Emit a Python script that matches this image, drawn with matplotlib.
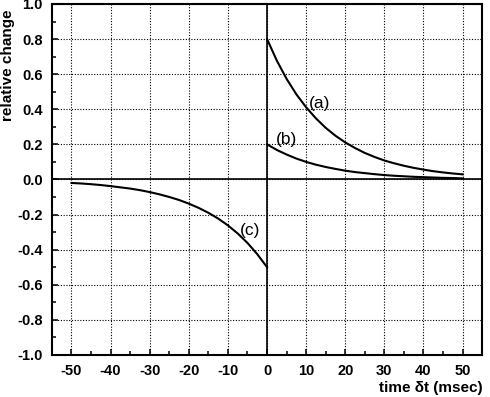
import matplotlib
matplotlib.use("Agg")
import matplotlib.pyplot as plt
from matplotlib.ticker import MultipleLocator, FormatStrFormatter

plt.rcParams['font.family'] = ['Liberation Sans', 'DejaVu Sans']
plt.rcParams['axes.unicode_minus'] = False

# values, every 2.5 msec
t_pos = [0, 2.5, 5, 7.5, 10, 12.5, 15, 17.5, 20, 22.5, 25,
         27.5, 30, 32.5, 35, 37.5, 40, 42.5, 45, 47.5, 50]
curve_a = [0.800, 0.677, 0.573, 0.485, 0.411, 0.348, 0.294, 0.249, 0.211, 0.179, 0.151,
           0.128, 0.108, 0.092, 0.078, 0.066, 0.056, 0.047, 0.040, 0.034, 0.029]
curve_b = [0.200, 0.168, 0.142, 0.119, 0.100, 0.084, 0.071, 0.060, 0.050, 0.042, 0.036,
           0.030, 0.025, 0.021, 0.018, 0.015, 0.013, 0.011, 0.009, 0.008, 0.006]

t_neg = [-50, -47.5, -45, -42.5, -40, -37.5, -35, -32.5, -30, -27.5, -25,
         -22.5, -20, -17.5, -15, -12.5, -10, -7.5, -5, -2.5, 0]
curve_c = [-0.020, -0.023, -0.027, -0.032, -0.038, -0.045, -0.052, -0.061, -0.072, -0.085, -0.100,
           -0.117, -0.138, -0.162, -0.190, -0.223, -0.262, -0.308, -0.362, -0.426, -0.500]

labels = ["(a)", "(b)", "(c)"]
label_pos = [(13.4, 0.43), (5.0, 0.225), (-4.3, -0.29)]

fig = plt.figure(figsize=(4.9, 3.97), dpi=100)
ax = fig.add_axes([0.106, 0.106, 0.878, 0.884])

ax.set_xlim(-55, 55)
ax.set_ylim(-1.0, 1.0)

ax.grid(True, which='major', linestyle=(0, (1, 1.5)), color='black', linewidth=0.8)
ax.axhline(0, color='black', linewidth=1.2, zorder=3)
ax.axvline(0, color='black', linewidth=1.2, zorder=3)

ax.plot(t_pos, curve_a, color='black', linewidth=1.5, zorder=4)
ax.plot(t_pos, curve_b, color='black', linewidth=1.5, zorder=4)
ax.plot(t_neg, curve_c, color='black', linewidth=1.5, zorder=4)

for lab, (x, y) in zip(labels, label_pos):
    ax.text(x, y, lab, ha='center', va='center', fontsize=12.5, zorder=5)

ax.xaxis.set_major_locator(MultipleLocator(10))
ax.xaxis.set_minor_locator(MultipleLocator(5))
ax.yaxis.set_major_locator(MultipleLocator(0.2))
ax.yaxis.set_minor_locator(MultipleLocator(0.1))
ax.yaxis.set_major_formatter(FormatStrFormatter('%.1f'))

ax.tick_params(which='both', direction='in', top=False, right=False, width=1.1)
ax.tick_params(which='major', length=4.3, labelsize=10.5, pad=6.5)
ax.tick_params(which='minor', length=2.9)
for lbl in ax.get_xticklabels() + ax.get_yticklabels():
    lbl.set_fontweight('bold')

for sp in ax.spines.values():
    sp.set_linewidth(1.5)

ax.set_xlabel("time δt (msec)", fontsize=11, fontweight='bold', loc='right', labelpad=2)
ax.set_ylabel("relative change", fontsize=11, fontweight='bold', loc='top')
ax.yaxis.set_label_coords(-0.085, 0.985)

fig.savefig("out.png", dpi=100)
